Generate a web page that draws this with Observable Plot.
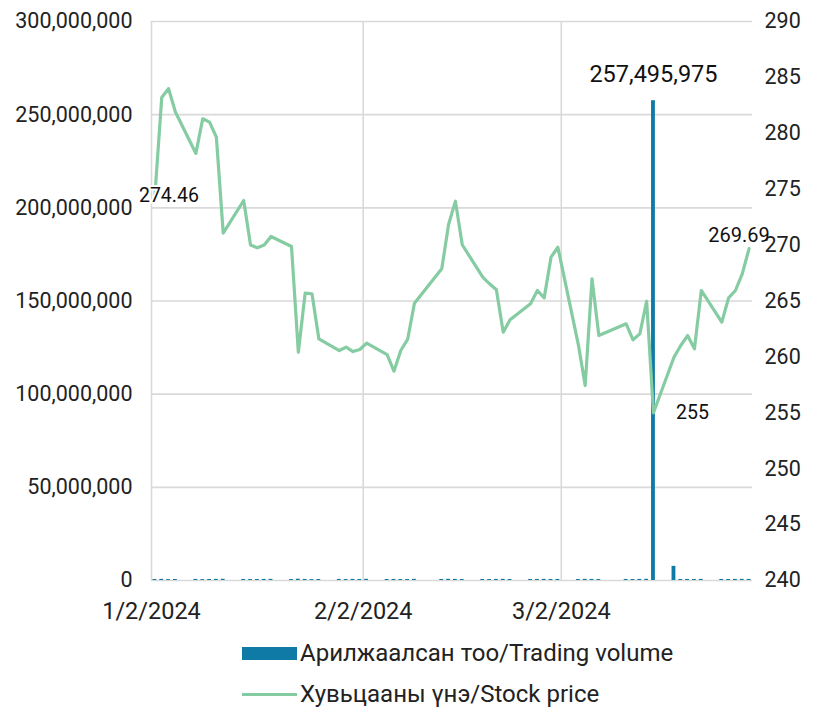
<!DOCTYPE html>
<html>
<head>
<meta charset="utf-8">
<script src="https://cdn.jsdelivr.net/npm/d3@7"></script>
<script src="https://cdn.jsdelivr.net/npm/@observablehq/plot@0.6"></script>
<style>
  html, body { margin: 0; padding: 0; background: #fff; }
  #wrap { position: relative; width: 814px; height: 709px; font-family: Roboto, "Noto Sans", sans-serif; color: #222; }
  #chart svg { display: block; }
  .lg-item { position: absolute; left: 242px; height: 28px; display: flex; align-items: center; font-size: 24px; line-height: 28px; color: #222; white-space: nowrap; }
  .lg-swatch-bar { width: 55px; height: 13px; background: #0f7aa5; margin-right: 3px; }
  .lg-swatch-line { width: 55px; height: 3px; background: #85cca2; margin-right: 3px; }
</style>
</head>
<body>
<div id="wrap">
  <div id="chart"></div>
  <div class="lg-item" style="top:639px"><div class="lg-swatch-bar"></div><span>Арилжаалсан тоо/Trading volume</span></div>
  <div class="lg-item" style="top:680px"><div class="lg-swatch-line"></div><span>Хувьцааны үнэ/Stock price</span></div>
</div>
<script>
// Trading days (Mongolian Stock Exchange, Q1 2024)
const dates = [
  "2024-01-02","2024-01-03","2024-01-04","2024-01-05","2024-01-08","2024-01-09","2024-01-10","2024-01-11","2024-01-12",
  "2024-01-15","2024-01-16","2024-01-17","2024-01-18","2024-01-19","2024-01-22","2024-01-23","2024-01-24","2024-01-25",
  "2024-01-26","2024-01-29","2024-01-30","2024-01-31",
  "2024-02-01","2024-02-02","2024-02-05","2024-02-06","2024-02-07","2024-02-08","2024-02-09","2024-02-13","2024-02-14",
  "2024-02-15","2024-02-16","2024-02-19","2024-02-20","2024-02-21","2024-02-22","2024-02-23","2024-02-26","2024-02-27",
  "2024-02-28","2024-02-29",
  "2024-03-01","2024-03-04","2024-03-05","2024-03-06","2024-03-07","2024-03-11","2024-03-12","2024-03-13","2024-03-14",
  "2024-03-15","2024-03-18","2024-03-19","2024-03-20","2024-03-21","2024-03-22","2024-03-25","2024-03-26","2024-03-27",
  "2024-03-28","2024-03-29"
];
// Stock price (right axis)
const prices = [
  274.46, 283.2, 284.0, 281.9, 278.2, 281.3, 281.0, 279.65, 271.07,
  273.99, 270.0, 269.76, 270.0, 270.77, 269.87, 260.42, 265.7, 265.65,
  261.62, 260.57, 260.87, 260.48,
  260.66, 261.23, 260.21, 258.72, 260.57, 261.56, 264.8, 267.88, 271.84,
  273.93, 270.03, 267.13, 266.54, 266.0, 262.21, 263.32, 264.75, 265.94,
  265.28, 268.92,
  269.81, 261.1, 257.44, 266.98, 261.91, 262.96, 261.53, 262.06, 264.98,
  255, 259.97, 261.02, 261.91, 260.72, 265.94, 263.1, 265.28, 265.94,
  267.43, 269.69
];
// Trading volume (left axis)
const volumes = [
  520000, 610000, 480000, 550000, 590000, 470000, 530000, 600000, 650000,
  560000, 500000, 540000, 580000, 610000, 520000, 700000, 560000, 490000,
  530000, 570000, 510000, 600000,
  550000, 620000, 540000, 580000, 500000, 530000, 610000, 560000, 640000,
  590000, 520000, 560000, 510000, 580000, 620000, 540000, 530000, 570000,
  600000, 560000,
  580000, 540000, 610000, 570000, 520000, 560000, 530000, 590000, 640000,
  257495975, 7600000, 550000, 580000, 520000, 600000, 560000, 540000, 590000,
  610000, 570000
];
const leftTicks = [0, 50000000, 100000000, 150000000, 200000000, 250000000, 300000000];
const rightTicks = [240, 245, 250, 255, 260, 265, 270, 275, 280, 285, 290];
const xTicks = ["2024-01-02", "2024-02-02", "2024-03-02"];

const pMin = 240, pMax = 290, vMax = 300000000;
const toV = p => (p - pMin) / (pMax - pMin) * vMax;
const DAY = 86400000;

const data = dates.map((d, i) => {
  const t = new Date(d + "T12:00:00Z");
  return {date: t, x1: new Date(+t - 0.28 * DAY), x2: new Date(+t + 0.28 * DAY), price: prices[i], volume: volumes[i]};
});
const xTickDates = xTicks.map(d => new Date(d + "T00:00:00Z"));
const fmtDate = d => `${d.getUTCMonth() + 1}/${d.getUTCDate()}/${d.getUTCFullYear()}`;

const first = data[0];
const last = data[data.length - 1];
const minPt = data.reduce((a, b) => (b.price < a.price ? b : a));
const maxVol = data.reduce((a, b) => (b.volume > a.volume ? b : a));

const chart = Plot.plot({
  width: 814,
  height: 630,
  marginLeft: 151,
  marginRight: 62,
  marginTop: 21,
  marginBottom: 50,
  style: {fontFamily: "Roboto, 'Noto Sans', sans-serif", fontSize: "21px", color: "#222", background: "white", overflow: "visible"},
  x: {type: "utc", domain: [new Date("2024-01-02T00:00:00Z"), new Date("2024-03-30T00:00:00Z")]},
  y: {domain: [0, vMax]},
  marks: [
    Plot.gridY(leftTicks, {stroke: "#d9d9d9", strokeOpacity: 1, strokeWidth: 1.6}),
    Plot.gridX(xTickDates, {stroke: "#d9d9d9", strokeOpacity: 1, strokeWidth: 1.6}),
    Plot.axisY(leftTicks, {anchor: "left", tickSize: 0, tickPadding: 19, tickFormat: d3.format(","), label: null, fontSize: 21.5}),
    Plot.axisY(rightTicks.map(toV), {anchor: "right", tickSize: 0, tickPadding: 12, label: null, fontSize: 21.5,
      tickFormat: v => String(Math.round(pMin + v / vMax * (pMax - pMin)))}),
    Plot.axisX(xTickDates, {tickSize: 0, tickPadding: 22, tickFormat: fmtDate, label: null, fontSize: 23.5}),
    Plot.rectY(data, {x1: "x1", x2: "x2", y1: 0, y2: "volume", fill: "#0f7aa5"}),
    Plot.line(data, {x: "date", y: d => toV(d.price), stroke: "#85cca2", strokeWidth: 3.2, strokeLinejoin: "round"}),
    Plot.text([first], {x: "date", y: d => toV(d.price), text: d => d.price.toFixed(2), dx: 14, dy: 1, fontSize: 19.5, fill: "#111",
      stroke: "white", strokeWidth: 4, paintOrder: "stroke"}),
    Plot.text([last], {x: "date", y: d => toV(d.price), text: d => d.price.toFixed(2), dx: -10, dy: -13, fontSize: 20, fill: "#111"}),
    Plot.text([minPt], {x: "date", y: d => toV(d.price), text: d => String(d.price), dx: 39, fontSize: 19.5, fill: "#111"}),
    Plot.text([maxVol], {x: "date", y: "volume", text: d => d3.format(",")(d.volume), dy: -26, fontSize: 23.5, fill: "#111"})
  ]
});
document.getElementById("chart").appendChild(chart);
</script>
</body>
</html>
